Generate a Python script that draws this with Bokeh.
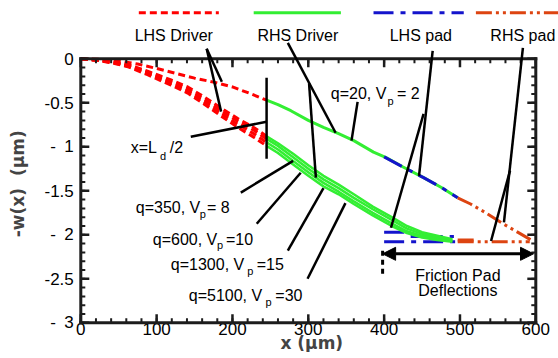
import math
from bokeh.plotting import figure
from bokeh.models import Range1d, Label, Arrow, NormalHead, ColumnDataSource
from bokeh.core.properties import value
from bokeh.embed import file_html
from bokeh.resources import INLINE

# ---------------- data ----------------
# q=20, Vp=2 (upper curve)
x_q20_lhs = [0, 25, 50, 75, 100, 125, 150, 175, 200, 225, 245]
w_q20_lhs = [0, -0.005, -0.025, -0.06, -0.11, -0.165, -0.22, -0.265, -0.32, -0.40, -0.47]
x_q20_rhs = [245, 260, 277, 300, 320, 340, 360, 386, 402, 425, 452, 475, 497]
w_q20_rhs = [-0.47, -0.52, -0.59, -0.70, -0.78, -0.85, -0.93, -1.06, -1.12, -1.23, -1.35, -1.46, -1.58]
x_q20_lpad = [400, 425, 452, 475, 497]
w_q20_lpad = [-1.115, -1.23, -1.35, -1.46, -1.58]
x_q20_rpad = [497, 514, 536, 556, 576, 596]
w_q20_rpad = [-1.58, -1.65, -1.76, -1.87, -1.97, -2.07]

# high-pressure cases: q=350, 600, 1300, 5100
x_hi_lhs = [0, 25, 43, 62, 88, 119, 141, 162, 185, 207, 228, 245]
w_q350_lhs = [0, -0.015, -0.035, -0.065, -0.14, -0.24, -0.32, -0.43, -0.56, -0.68, -0.78, -0.88]
w_q600_lhs = [0, -0.018, -0.04, -0.075, -0.15, -0.26, -0.345, -0.46, -0.59, -0.71, -0.81, -0.91]
w_q1300_lhs = [0, -0.02, -0.045, -0.085, -0.165, -0.28, -0.37, -0.49, -0.62, -0.745, -0.85, -0.95]
w_q5100_lhs = [0, -0.022, -0.05, -0.09, -0.18, -0.30, -0.39, -0.51, -0.65, -0.78, -0.89, -0.99]

x_hi_rhs = [245, 260, 280, 300, 320, 340, 360, 385, 410, 430, 450, 470, 490]
w_q350_rhs = [-0.88, -0.96, -1.08, -1.21, -1.33, -1.43, -1.54, -1.68, -1.80, -1.90, -1.97, -2.01, -2.05]
w_q600_rhs = [-0.91, -0.99, -1.12, -1.25, -1.37, -1.47, -1.58, -1.71, -1.83, -1.93, -1.99, -2.03, -2.06]
w_q1300_rhs = [-0.95, -1.03, -1.16, -1.29, -1.41, -1.51, -1.62, -1.75, -1.87, -1.96, -2.01, -2.05, -2.07]
w_q5100_rhs = [-0.99, -1.07, -1.20, -1.33, -1.45, -1.54, -1.65, -1.78, -1.90, -1.98, -2.03, -2.06, -2.08]

# flat pad deflections of the high-pressure cases
lpad_x0 = [400, 435, 400]
lpad_x1 = [428, 492, 497]
lpad_w = [-1.97, -2.02, -2.08]
rpad_x0 = [497, 497]
rpad_x1 = [592, 520]
rpad_w = [-2.08, -2.06]

x_ticks = [0, 100, 200, 300, 400, 500, 600]
x_tick_labels = ["0", "100", "200", "300", "400", "500", "600"]
x_minor = list(range(0, 601, 20))
y_ticks = [0, -0.5, -1, -1.5, -2, -2.5, -3]
y_tick_labels = ["0", "-0.5", "-\u20021", "-1.5", "-\u20022", "-2.5", "-\u20023"]
y_minor = [-i / 10 for i in range(0, 31)]

legend_names = ["LHS Driver", "RHS Driver", "LHS pad", "RHS pad"]

# ---------------- layout / styles ----------------
RED = "#ff0000"
GREEN = "#33ee33"
BLUE = "#1414cc"
ORANGE = "#dd4411"
AXIS = "#1c1c1c"
RED_DASH = "7 4"
BLUE_DASH = "20 7 5 7"
ORANGE_DASH = "16 4 3 4 3 4"
FONT = "Liberation Sans"

W, H = 558, 352
PX_L, PX_R, PX_T, PX_B = 80.3, 535.3, 58.3, 322.3     # where the axes box sits on the canvas
X0, X1 = x_ticks[0], x_ticks[-1]
Y0, Y1 = y_ticks[-1], y_ticks[0]
kx = (PX_R - PX_L) / (X1 - X0)
ky = (PX_B - PX_T) / (Y1 - Y0)

p = figure(width=W, height=H,
           x_range=Range1d(X0 - PX_L / kx, X1 + (W - PX_R) / kx),
           y_range=Range1d(Y0 - (H - PX_B) / ky, Y1 + PX_T / ky),
           x_axis_location=None, y_axis_location=None, min_border=0,
           output_backend="svg", toolbar_location=None)
p.xgrid.visible = False
p.ygrid.visible = False
p.outline_line_color = None

# ---------------- curves ----------------
LW = 3
for w in [w_q350_lhs, w_q600_lhs, w_q1300_lhs, w_q5100_lhs]:
    p.line(x_hi_lhs, w, line_color=RED, line_width=LW, line_dash=RED_DASH)
p.line(x_q20_lhs, w_q20_lhs, line_color=RED, line_width=LW, line_dash=RED_DASH)

pad_l = ColumnDataSource(dict(x0=lpad_x0, x1=lpad_x1, y=lpad_w))
p.segment(x0="x0", y0="y", x1="x1", y1="y", source=pad_l, line_color=BLUE, line_width=LW, line_dash=BLUE_DASH)

for w in [w_q350_rhs, w_q600_rhs, w_q1300_rhs, w_q5100_rhs]:
    p.line(x_hi_rhs, w, line_color=GREEN, line_width=2.5)
p.line(x_q20_rhs, w_q20_rhs, line_color=GREEN, line_width=LW)

p.line(x_q20_lpad, w_q20_lpad, line_color=BLUE, line_width=LW, line_dash=BLUE_DASH)
p.line(x_q20_rpad, w_q20_rpad, line_color=ORANGE, line_width=LW, line_dash=ORANGE_DASH)

pad_r = ColumnDataSource(dict(x0=rpad_x0, x1=rpad_x1, y=rpad_w))
p.segment(x0="x0", y0="y", x1="x1", y1="y", source=pad_r, line_color=ORANGE, line_width=LW, line_dash=ORANGE_DASH)

p.text(x=x_ticks, y=[Y0] * len(x_ticks), text=x_tick_labels, text_align="center", text_baseline="top",
       y_offset=0, text_font=value(FONT), text_font_size=value("17px"), text_color="black")
p.text(x=[X0] * len(y_ticks), y=y_ticks, text=y_tick_labels, text_align="right", text_baseline="middle",
       x_offset=-7, text_font=value(FONT), text_font_size=value("17px"), text_color="black")


def rule(x0s, y0s, x1s, y1s, width, dash="solid", color="black", cap="butt"):
    src = ColumnDataSource(dict(x0=list(x0s), y0=list(y0s), x1=list(x1s), y1=list(y1s)))
    p.add_layout(Arrow(source=src, x_start="x0", y_start="y0", x_end="x1", y_end="y1",
                       start=None, end=None, line_color=color, line_width=width,
                       line_dash=dash, line_cap=cap))


# ---------------- axes box and inward ticks on all four sides ----------------
def xticks(xs, length_px, width):
    n = len(xs)
    d = length_px / ky
    rule(xs, [Y0] * n, xs, [Y0 + d] * n, width, color=AXIS)
    rule(xs, [Y1] * n, xs, [Y1 - d] * n, width, color=AXIS)


def yticks(ys, length_px, width):
    n = len(ys)
    d = length_px / kx
    rule([X0] * n, ys, [X0 + d] * n, ys, width, color=AXIS)
    rule([X1] * n, ys, [X1 - d] * n, ys, width, color=AXIS)


xticks(x_minor, 4.5, 2)
xticks(x_ticks, 8.5, 2.5)
yticks(y_minor, 4.5, 2)
yticks(y_ticks, 8.5, 2.5)
rule([X0, X1, X1, X0], [Y1, Y1, Y0, Y0], [X1, X1, X0, X0], [Y1, Y0, Y0, Y1], 3, color=AXIS, cap="square")

# ---------------- legend (above the box) ----------------
leg_lines = [(76.5, 182, RED, RED_DASH), (228, 343, GREEN, "solid"),
             (386, 505, BLUE, BLUE_DASH), (521, 632, ORANGE, ORANGE_DASH)]
leg_text_x = [122.6, 286.2, 448.4, 582.9]
for (a, b, c, d), tx, name in zip(leg_lines, leg_text_x, legend_names):
    rule([a], [0.523], [b], [0.523], LW, dash=d, color=c)
    p.add_layout(Label(x=tx, y=0.261, text=name, text_align="center", text_baseline="alphabetic",
                       text_font=FONT, text_font_size="16px", text_color="black"))

# ---------------- leader lines ----------------
leaders = [
    (166, 0.114, 186, -0.26), (166, 0.114, 185, -0.60),          # LHS Driver
    (273, 0.18, 336, -0.84), (301, -0.28, 310, -1.35),            # RHS Driver
    (365, -0.49, 357, -0.93),                                     # q=20
    (464, 0.09, 446, -1.33), (452, -0.625, 409, -1.92),           # LHS pad
    (583, 0.125, 558, -1.86), (566, -1.27, 541, -2.07),           # RHS pad
    (145, -0.886, 245, -0.716), (245, -0.216, 245, -1.136),       # x = Ld/2
    (211, -1.52, 280, -1.16),                                     # q=350
    (232, -1.875, 290, -1.295),                                   # q=600
    (273, -2.18, 320, -1.47),                                     # q=1300
    (299, -2.5, 349, -1.64),                                      # q=5100
]
rule([l[0] for l in leaders], [l[1] for l in leaders], [l[2] for l in leaders], [l[3] for l in leaders], 2.5)

# friction pad span arrow
p.add_layout(Arrow(x_start=398, y_start=-2.216, x_end=597, y_end=-2.216,
                   start=NormalHead(size=13, fill_color="black", line_color="black"),
                   end=NormalHead(size=13, fill_color="black", line_color="black"),
                   line_color="black", line_width=3))
rule([398], [-2.18], [398], [-2.47], 3, dash="5 4")


# ---------------- text labels ----------------
def txt(x, y, s, size="16px", align="left"):
    p.add_layout(Label(x=x, y=y, text=s, text_align=align, text_baseline="alphabetic",
                       text_font=FONT, text_font_size=size, text_color="black"))


SUB = "11px"
txt(329.7, -0.398, "q=20, V"); txt(404.5, -0.477, "p", SUB); txt(417, -0.398, "= 2")
txt(65.9, -1.011, "x=L"); txt(104.5, -1.102, "d", SUB); txt(117.4, -1.011, "/2")
txt(72.5, -1.69, "q=350, V"); txt(157, -1.761, "p", SUB); txt(166.5, -1.69, "= 8")
txt(94.9, -2.049, "q=600, V"); txt(179.5, -2.117, "p", SUB); txt(191.5, -2.049, "=10")
txt(118.7, -2.341, "q=1300, V"); txt(219.5, -2.409, "p", SUB); txt(232, -2.341, "=15")
txt(142.4, -2.693, "q=5100, V"); txt(243.5, -2.761, "p", SUB); txt(256.5, -2.693, "=30")
txt(497.2, -2.466, "Friction Pad", "16px", "center")
txt(497.2, -2.636, "Deflections", "16px", "center")

# axis titles
p.add_layout(Label(x=304.6, y=-3.225, text="x (µm)", text_align="center", text_baseline="middle",
                   text_font="DejaVu Sans", text_font_style="bold", text_font_size="17px"))
p.add_layout(Label(x=-83, y=-1.42, text="-w(x)\u00a0\u00a0(µm)", angle=math.pi / 2,
                   text_align="center", text_baseline="middle",
                   text_font="DejaVu Sans", text_font_style="bold", text_font_size="17px"))

open("out.html", "w").write(file_html(p, INLINE))
